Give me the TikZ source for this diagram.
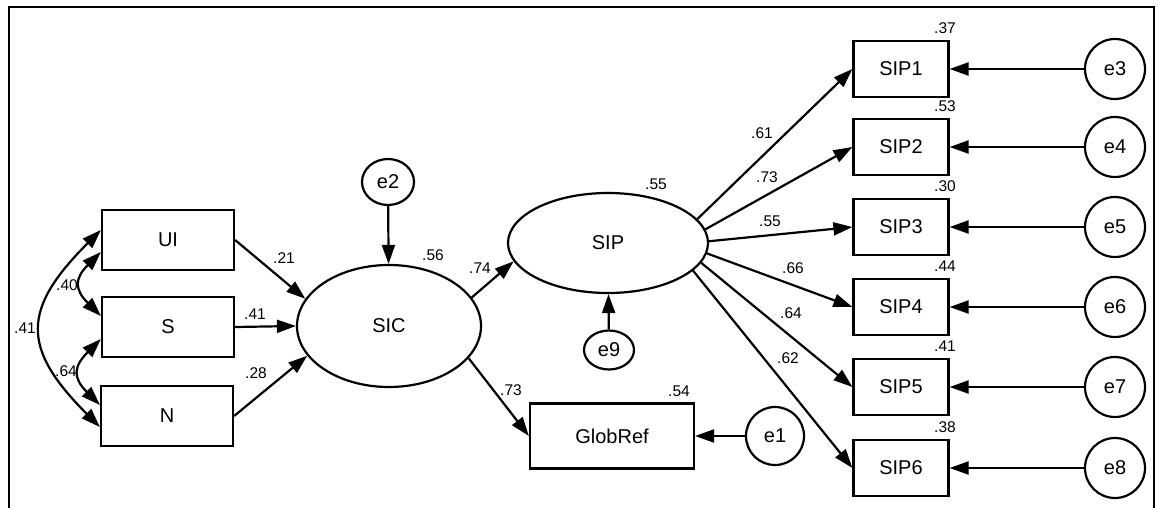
\documentclass[tikz,border=0pt]{standalone}
\usepackage{fontspec}
\setmainfont{Liberation Sans}
\usetikzlibrary{arrows.meta,shapes.geometric}

\begin{document}
\begin{tikzpicture}[x=1pt,y=-1pt,>={Triangle[length=19pt,width=13pt]},line width=2.2pt,
    obs/.style={draw,rectangle,minimum width=132pt,minimum height=60pt,font=\fontsize{20}{22}\selectfont},
    ind/.style={draw,rectangle,minimum width=95pt,minimum height=56pt,font=\fontsize{20}{22}\selectfont},
    lat/.style={draw,ellipse,inner sep=0pt,font=\fontsize{20}{22}\selectfont},
    err/.style={draw,ellipse,inner sep=0pt,font=\fontsize{20}{22}\selectfont},
    coef/.style={inner sep=0pt,font=\fontsize{15.5}{17}\selectfont}]% SEM path model
  \useasboundingbox (0,0) rectangle (1158,508);
  \draw (9,508) -- (9,7) -- (1154,7) -- (1154,508);

  \node (ui) at (168,240) [obs] {UI};
  \node (s) at (168,327) [obs] {S};
  \node (n) at (167,416) [obs] {N};
  \node (sic) at (389,326) [lat,minimum width=184pt,minimum height=122pt] {SIC};
  \node (e2) at (388,182) [err,minimum width=52pt,minimum height=46pt] {e2};
  \node (sip) at (608,243) [lat,minimum width=200pt,minimum height=100pt] {SIP};
  \node (e9) at (609,350) [err,minimum width=50pt,minimum height=39pt] {e9};
  \node (glob) at (612,436) [obs,minimum width=164pt,minimum height=65pt] {GlobRef};
  \node (e1) at (775,436) [err,minimum size=58pt] {e1};

  % covariances
  \draw [<->] ([yshift=-12pt]ui.west) to[out=225,in=135,looseness=1.5] ([yshift=11pt]s.west);
  \draw [<->] ([yshift=-12pt]s.west) to[out=225,in=135,looseness=1.5] ([yshift=11pt]n.west);
  \draw [<->] ([yshift=10pt]ui.west) to[out=225,in=135,looseness=1.45] ([yshift=-11pt]n.west);
  \node (cus) at (67,285) [coef] {.40};
  \node (csn) at (66,371) [coef] {.64};
  \node (cun) at (25,328) [coef] {.41};

  % structural paths
  \draw [->] (ui.east) -- (sic.162);
  \draw [->] (s.east) -- (sic.west);
  \draw [->] (n.east) -- (sic.200);
  \draw [->] (e2) -- (sic);
  \draw [->] (sic.19) -- (sip.191);
  \draw [->] (sic.-22) -- (glob.west);
  \draw [->] (e9) -- (sip);
  \draw [->] (e1) -- (glob);
  \node (pui) at (284,258) [coef] {.21};
  \node (ps) at (255,314) [coef] {.41};
  \node (pn) at (256,373) [coef] {.28};
  \node (psip) at (480,268) [coef] {.74};
  \node (pglob) at (511,390) [coef] {.73};
  \node (rsic) at (433,255) [coef] {.56};
  \node (rsip) at (656,184) [coef] {.55};
  \node (rglob) at (679,391) [coef] {.54};

  % measurement part
  \foreach \i/\y/\a/\rsq/\lam/\lx/\ly in {1/69/15/.37/.61/762/133,2/147/8/.53/.73/767/177,
      3/227/1/.30/.55/770/221,4/307/-6/.44/.66/793/268,5/387/-12/.41/.64/791/313,
      6/468/-18/.38/.62/788/358}{
    \node (sip\i) at (901,\y) [ind] {SIP\i};
    \pgfmathtruncatemacro{\k}{\i+2}
    \node (e\k) at (1115,\y) [err,minimum size=60pt] {e\k};
    \node (r\i) at (945,\y-41) [coef] {\rsq};
    \node (l\i) at (\lx,\ly) [coef] {\lam};
    \draw [->] (e\k) -- (sip\i);
    \draw [->] (sip.\a) -- (sip\i.west);
  }
\end{tikzpicture}
\end{document}
